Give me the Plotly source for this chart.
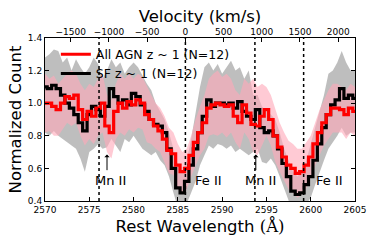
import numpy as np
import plotly.graph_objects as go

# Wavelength grid (Å), 0.5 Å bins
wave = [2570.0 + 0.5 * i for i in range(71)]

sf_flux = [1.10, 1.09, 1.11, 1.09, 1.05, 1.00, 0.97, 0.93, 0.88, 0.83,
           0.93, 0.98, 0.96, 0.92, 0.98, 1.09, 1.04, 1.00, 1.02, 0.99,
           1.06, 1.04, 0.99, 0.95, 0.90, 0.87, 0.86, 0.82, 0.72, 0.60,
           0.48, 0.45, 0.52, 0.62, 0.72, 0.82, 0.92, 1.02, 0.98, 1.00,
           1.00, 0.99, 1.00, 0.97, 1.01, 0.95, 0.92, 0.90, 0.96, 0.85,
           0.82, 0.83, 0.80, 0.72, 0.63, 0.55, 0.46, 0.44, 0.45, 0.50,
           0.55, 0.65, 0.75, 0.85, 0.93, 0.99, 1.02, 1.09, 1.03, 1.05, 1.03]

agn_flux = [1.00, 1.00, 0.98, 0.96, 1.00, 1.04, 1.03, 1.05, 0.96, 0.90,
            0.95, 0.92, 0.97, 1.00, 0.86, 0.82, 0.95, 1.00, 0.97, 1.01,
            0.99, 1.02, 1.00, 0.93, 0.90, 0.86, 0.83, 0.78, 0.71, 0.69,
            0.62, 0.58, 0.60, 0.68, 0.76, 0.82, 0.88, 0.97, 0.99, 1.00,
            0.99, 0.98, 0.99, 0.92, 0.88, 0.99, 0.94, 0.87, 0.86, 0.92,
            0.96, 0.90, 0.80, 0.73, 0.67, 0.62, 0.60, 0.57, 0.58, 0.62,
            0.67, 0.75, 0.82, 0.88, 0.93, 0.97, 0.97, 0.96, 0.93, 0.97, 0.95]

sf_upper = [1.28, 1.30, 1.33, 1.32, 1.25, 1.28, 1.20, 1.27, 1.22, 1.18,
            1.22, 1.28, 1.24, 1.15, 1.20, 1.27, 1.22, 1.25, 1.18, 1.22,
            1.25, 1.22, 1.17, 1.12, 1.08, 1.00, 0.95, 0.90, 0.82, 0.72,
            0.62, 0.58, 0.65, 0.78, 0.95, 1.10, 1.22, 1.25, 1.20, 1.24,
            1.18, 1.22, 1.26, 1.20, 1.22, 1.15, 1.20, 1.05, 1.05, 0.98,
            0.95, 0.93, 0.90, 0.82, 0.72, 0.65, 0.58, 0.55, 0.58, 0.65,
            0.75, 0.85, 0.95, 1.05, 1.18, 1.20, 1.25, 1.32, 1.25, 1.20, 1.20]

sf_lower = [0.82, 0.80, 0.83, 0.80, 0.78, 0.76, 0.74, 0.72, 0.66, 0.58,
            0.70, 0.72, 0.75, 0.72, 0.73, 0.78, 0.74, 0.70, 0.78, 0.76,
            0.80, 0.76, 0.72, 0.70, 0.68, 0.70, 0.65, 0.62, 0.55, 0.45,
            0.36, 0.32, 0.38, 0.45, 0.52, 0.62, 0.68, 0.74, 0.72, 0.75,
            0.74, 0.72, 0.74, 0.70, 0.72, 0.70, 0.68, 0.70, 0.72, 0.64,
            0.63, 0.66, 0.62, 0.55, 0.47, 0.40, 0.33, 0.32, 0.33, 0.38,
            0.42, 0.50, 0.58, 0.65, 0.72, 0.76, 0.80, 0.85, 0.80, 0.82, 0.82]

agn_upper = [1.18, 1.15, 1.17, 1.12, 1.15, 1.18, 1.20, 1.18, 1.12, 1.08,
             1.12, 1.10, 1.15, 1.18, 1.05, 1.02, 1.12, 1.18, 1.15, 1.18,
             1.15, 1.18, 1.16, 1.10, 1.05, 1.00, 0.97, 0.92, 0.85, 0.82,
             0.75, 0.70, 0.72, 0.80, 0.90, 0.98, 1.05, 1.15, 1.18, 1.20,
             1.16, 1.18, 1.15, 1.08, 1.05, 1.15, 1.12, 1.15, 1.10, 1.12,
             1.10, 1.05, 0.96, 0.88, 0.82, 0.77, 0.75, 0.72, 0.72, 0.76,
             0.80, 0.88, 0.96, 1.02, 1.08, 1.12, 1.12, 1.10, 1.08, 1.12, 1.10]

agn_lower = [0.82, 0.83, 0.80, 0.80, 0.84, 0.88, 0.86, 0.88, 0.80, 0.74,
             0.78, 0.75, 0.80, 0.82, 0.70, 0.66, 0.78, 0.82, 0.80, 0.84,
             0.82, 0.85, 0.84, 0.76, 0.75, 0.72, 0.70, 0.64, 0.57, 0.56,
             0.48, 0.44, 0.47, 0.55, 0.62, 0.68, 0.72, 0.80, 0.81, 0.80,
             0.82, 0.79, 0.82, 0.76, 0.72, 0.82, 0.78, 0.70, 0.68, 0.74,
             0.80, 0.74, 0.64, 0.58, 0.52, 0.47, 0.45, 0.42, 0.44, 0.48,
             0.54, 0.62, 0.68, 0.74, 0.78, 0.82, 0.82, 0.82, 0.78, 0.82, 0.80]

line_waves = [2576.1, 2585.85, 2593.7, 2599.2]
labels = ["Mn II", "Fe II", "Mn II", "Fe II"]
label_x = [2577.4, 2588.5, 2594.3, 2602.1]
arrow_x = [2577.0, 2593.8]

vel_ticks = [-1500, -1000, -500, 0, 500, 1000, 1500, 2000]
wave_ticks = [2570, 2575, 2580, 2585, 2590, 2595, 2600, 2605]
y_ticks = [0.4, 0.6, 0.8, 1.0, 1.2, 1.4]

C_KMS = 299792.458
lam0 = line_waves[1]
xr = [2570, 2605]
vr = [(l - lam0) / lam0 * C_KMS for l in xr]

fig = go.Figure()

def band(lo, hi, color):
    fig.add_trace(go.Scatter(x=wave, y=lo, mode="lines", line=dict(width=0),
                             showlegend=False, hoverinfo="skip"))
    fig.add_trace(go.Scatter(x=wave, y=hi, mode="lines", line=dict(width=0),
                             fill="tonexty", fillcolor=color, showlegend=False, hoverinfo="skip"))

band(sf_lower, sf_upper, "rgba(150,150,150,0.62)")
band(agn_lower, agn_upper, "rgba(255,170,185,0.62)")

fig.add_trace(go.Scatter(x=wave, y=sf_flux, mode="lines", name="SF z ~ 1 (N=12)",
                         line=dict(color="black", width=3.2, shape="hvh"), legendrank=2))
fig.add_trace(go.Scatter(x=wave, y=agn_flux, mode="lines", name="All AGN z ~ 1 (N=12)",
                         line=dict(color="red", width=3.2, shape="hvh"), legendrank=1))

# invisible trace to carry the velocity axis
vel = [(l - lam0) / lam0 * C_KMS for l in wave]
fig.add_trace(go.Scatter(x=vel, y=sf_flux, xaxis="x2", mode="lines", line=dict(width=0),
                         opacity=0, showlegend=False, hoverinfo="skip"))

for lw in line_waves:
    fig.add_shape(type="line", x0=lw, x1=lw, y0=0, y1=1, xref="x", yref="paper",
                  line=dict(color="black", width=1.5, dash="dot"))

for t, lx in zip(labels, label_x):
    fig.add_annotation(x=lx, y=0.525, text=t, showarrow=False,
                       font=dict(family="DejaVu Sans", size=13, color="black"))
for ax_ in arrow_x:
    fig.add_annotation(x=ax_, y=0.685, ax=ax_, ay=0.58, axref="x", ayref="y",
                       text="", showarrow=True, arrowhead=1, arrowsize=0.9, arrowwidth=1,
                       arrowcolor="black")

fig.update_layout(
    width=374, height=249,
    margin=dict(l=45, r=19, t=38, b=48, autoexpand=False),
    paper_bgcolor="white", plot_bgcolor="white",
    font=dict(family="DejaVu Sans", color="black", size=9),
    showlegend=True,
    legend=dict(x=0.035, y=0.99, xanchor="left", yanchor="top", bgcolor="rgba(0,0,0,0)",
                font=dict(size=12.5), itemwidth=30, traceorder="normal"),
    xaxis=dict(range=xr, tickvals=wave_ticks, ticks="inside", ticklen=4, tickcolor="black",
               showline=True, linecolor="black", linewidth=1, mirror=True, showgrid=False,
               zeroline=False, tickfont=dict(size=9), automargin=False,
               title=dict(text="Rest Wavelength <span style='font-family:DejaVu Serif'>(Å)</span>",
                          font=dict(size=16.5), standoff=6)),
    xaxis2=dict(range=vr, overlaying="x", side="top", tickvals=vel_ticks,
                ticktext=[str(v).replace("-", "\u2212") for v in vel_ticks],
                ticks="inside", ticklen=4, tickcolor="black", showgrid=False, zeroline=False,
                tickfont=dict(size=9), automargin=False,
                title=dict(text="Velocity (km/s)", font=dict(size=16.5), standoff=0)),
    yaxis=dict(range=[0.4, 1.4], tickvals=y_ticks, ticktext=[f"{v:.1f}" for v in y_ticks],
               ticks="inside", ticklen=4, tickcolor="black", showline=True, linecolor="black",
               linewidth=1, mirror="ticks", showgrid=False, zeroline=False, tickfont=dict(size=9),
               automargin=False,
               title=dict(text="Normalized Count", font=dict(size=16.5), standoff=2)),
)

fig.write_html("out.html", post_script="document.body.style.margin='0';",
               config={"displayModeBar": False})
